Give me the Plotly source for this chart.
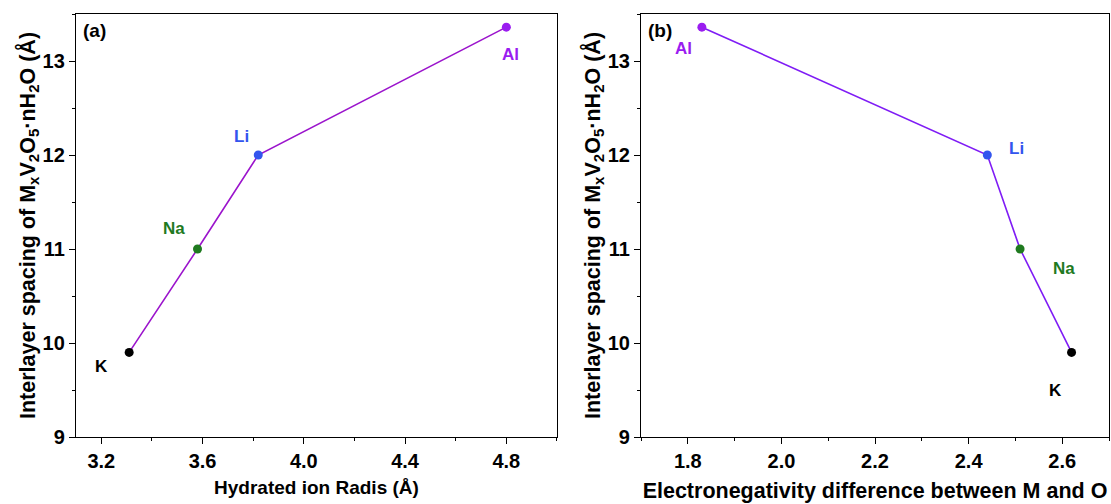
import plotly.graph_objects as go

# ---- data ----
ions = ["K", "Na", "Li", "Al"]
hydrated_radius = [3.31, 3.58, 3.82, 4.80]
electroneg_diff = [2.62, 2.51, 2.44, 1.83]
interlayer_spacing = [9.90, 11.00, 12.00, 13.36]

y_ticks = [9, 10, 11, 12, 13]
xa_ticks = [3.2, 3.6, 4.0, 4.4, 4.8]
xb_ticks = [1.8, 2.0, 2.2, 2.4, 2.6]

# ---- styles ----
ion_colors = {"K": "#000000", "Na": "#1f7a1f", "Li": "#3355ee", "Al": "#9a1cf0"}
line_a = "#9b14cc"
line_b = "#7f1cf5"
FONT = "Liberation Sans, Arial, sans-serif"

# label pixel offsets (style, not data)
off_a = {"K": (-28, -14), "Na": (-24, 21), "Li": (-17, 19), "Al": (4, -27)}
off_b = {"K": (-16, -38), "Na": (44, -19), "Li": (29, 7), "Al": (-18, -21)}

fig = go.Figure()

marker_cols = [ion_colors[i] for i in ions]
fig.add_trace(go.Scatter(x=hydrated_radius, y=interlayer_spacing, mode="lines+markers",
                         line=dict(color=line_a, width=1.6),
                         marker=dict(size=9, color=marker_cols),
                         xaxis="x", yaxis="y", showlegend=False, hoverinfo="skip"))
fig.add_trace(go.Scatter(x=electroneg_diff, y=interlayer_spacing, mode="lines+markers",
                         line=dict(color=line_b, width=1.6),
                         marker=dict(size=9, color=marker_cols),
                         xaxis="x2", yaxis="y2", showlegend=False, hoverinfo="skip"))

ann = []
for i, ion in enumerate(ions):
    dx, dy = off_a[ion]
    ann.append(dict(x=hydrated_radius[i], y=interlayer_spacing[i], xref="x", yref="y",
                    text=f"<b>{ion}</b>", showarrow=False, xshift=dx, yshift=dy,
                    font=dict(family=FONT, size=17, color=ion_colors[ion])))
    dx, dy = off_b[ion]
    ann.append(dict(x=electroneg_diff[i], y=interlayer_spacing[i], xref="x2", yref="y2",
                    text=f"<b>{ion}</b>", showarrow=False, xshift=dx, yshift=dy,
                    font=dict(family=FONT, size=17, color=ion_colors[ion])))

ann.append(dict(x=0.01, y=0.99, xref="x domain", yref="y domain", xanchor="left", yanchor="top",
                text="<b>(a)</b>", showarrow=False, font=dict(family=FONT, size=19, color="black")))
ann.append(dict(x=0.01, y=0.99, xref="x2 domain", yref="y2 domain", xanchor="left", yanchor="top",
                text="<b>(b)</b>", showarrow=False, font=dict(family=FONT, size=19, color="black")))

ytitle = "<b>Interlayer spacing of M<sub>x</sub>V<sub>2</sub>O<sub>5</sub>·nH<sub>2</sub>O (Å)</b>"

common_axis = dict(showline=True, linecolor="black", linewidth=1.3, mirror=True,
                   ticks="outside", ticklen=6, tickwidth=1.3, tickcolor="black",
                   showgrid=False, zeroline=False,
                   tickfont=dict(family=FONT, size=20, color="black"))

fig.update_layout(
    width=1111, height=504,
    margin=dict(l=76, r=2, t=14, b=67),
    paper_bgcolor="white", plot_bgcolor="white",
    font=dict(family=FONT, color="black"),
    annotations=ann,
    xaxis=dict(domain=[0, 0.4656], range=[3.1, 5.0], tickvals=xa_ticks,
               ticktext=[f"<b>{v:.1f}</b>" for v in xa_ticks],
               minor=dict(ticks="outside", ticklen=3, tickwidth=1.2, tickcolor="black", dtick=0.2, tick0=3.0),
               title=dict(text="<b>Hydrated ion Radis (Å)</b>", font=dict(family=FONT, size=19), standoff=9),
               anchor="y", **common_axis),
    yaxis=dict(domain=[0, 1], range=[9, 13.5], tickvals=y_ticks,
               ticktext=[f"<b>{v}</b>" for v in y_ticks],
               minor=dict(ticks="outside", ticklen=3, tickwidth=1.2, tickcolor="black", dtick=0.5, tick0=9),
               title=dict(text=ytitle, font=dict(family=FONT, size=21.5), standoff=1),
               anchor="x", **common_axis),
    xaxis2=dict(domain=[0.547, 1], range=[1.7, 2.7], tickvals=xb_ticks,
                ticktext=[f"<b>{v:.1f}</b>" for v in xb_ticks],
                minor=dict(ticks="outside", ticklen=3, tickwidth=1.2, tickcolor="black", dtick=0.1, tick0=1.7),
                title=dict(text="<b>Electronegativity difference between M and O</b>", font=dict(family=FONT, size=21.5), standoff=11),
                anchor="y2", **common_axis),
    yaxis2=dict(domain=[0, 1], range=[9, 13.5], tickvals=y_ticks,
                ticktext=[f"<b>{v}</b>" for v in y_ticks],
                minor=dict(ticks="outside", ticklen=3, tickwidth=1.2, tickcolor="black", dtick=0.5, tick0=9),
                title=dict(text=ytitle, font=dict(family=FONT, size=21.5), standoff=1),
                anchor="x2", **common_axis),
)

fig.write_html("out.html")
